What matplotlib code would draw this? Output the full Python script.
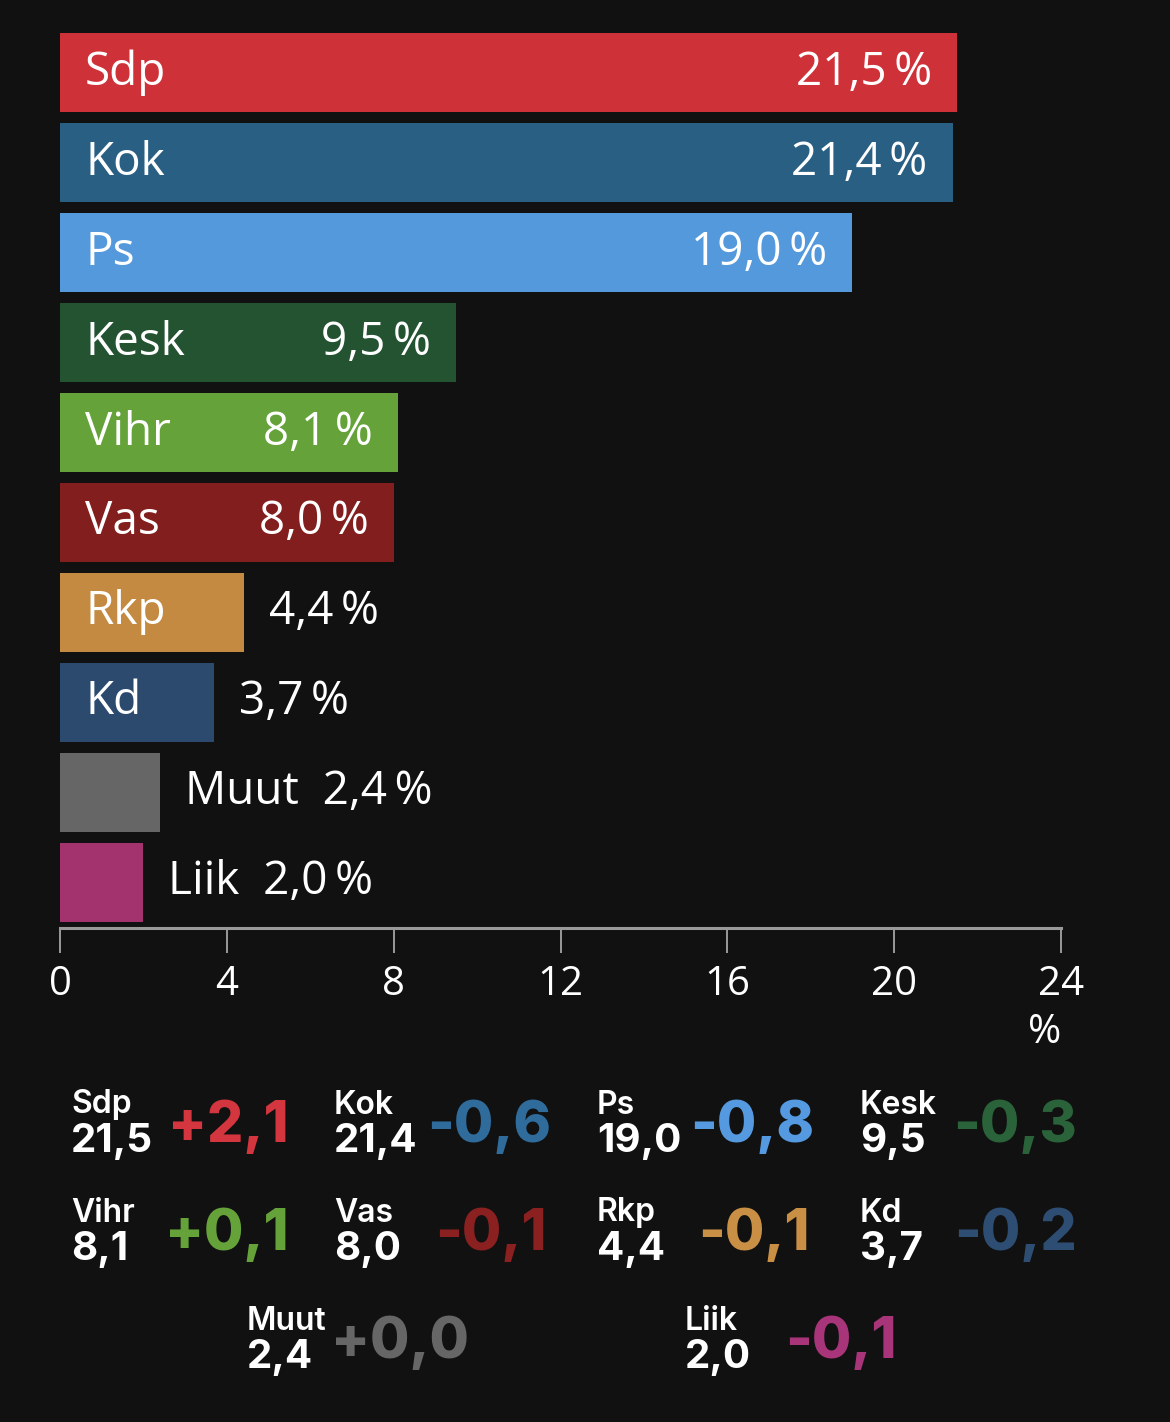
import numpy as np
import matplotlib.pyplot as plt

parties = ['Sdp', 'Kok', 'Ps', 'Kesk', 'Vihr', 'Vas', 'Rkp', 'Kd', 'Muut', 'Liik']
shares = [21.5, 21.4, 19.0, 9.5, 8.1, 8.0, 4.4, 3.7, 2.4, 2.0]
changes = ['+2,1', '-0,6', '-0,8', '-0,3', '+0,1', '-0,1', '-0,1', '-0,2', '+0,0', '-0,1']
bar_colors = ['#cf3139', '#2a5f84', '#5599dd', '#245331', '#65a33a',
              '#821e1d', '#c48a42', '#2c4a6e', '#666666', '#a3336f']
change_colors = ['#d3363f', '#2f6c9c', '#559ae0', '#2a6339', '#65a33a',
                 '#8a2020', '#c98f45', '#2e4d72', '#666666', '#a8347a']
# how the label sits: 0 = both inside, 1 = name inside / value outside, 2 = both outside
label_mode = [0, 0, 0, 0, 0, 0, 1, 1, 2, 2]

BG = '#111111'
W, H = 1170, 1422
fig = plt.figure(figsize=(W / 100, H / 100), dpi=100, facecolor=BG)

# axes spans px 60..1061 horizontally, 33..928 vertically
ax = fig.add_axes([60 / W, 1 - 928 / H, (1061 - 60) / W, (928 - 33) / H])
ax.set_facecolor(BG)
y = np.arange(len(parties))
ax.barh(y, shares, height=0.88, color=bar_colors)
ax.set_xlim(0, 24)
ax.set_ylim(9.44 + 6 / 90, -0.44)

bar_font = ['Open Sans', 'DejaVu Sans']
pad = 0.6
for i in range(len(parties)):
    val = f'{shares[i]:.1f}'.replace('.', ',') + '\u2009%'
    if label_mode[i] == 0:
        ax.text(pad, y[i], parties[i], color='white', fontsize=33, va='center', ha='left', family=bar_font)
        ax.text(shares[i] - pad, y[i], val, color='white', fontsize=33, va='center', ha='right', family=bar_font)
    elif label_mode[i] == 1:
        ax.text(pad, y[i], parties[i], color='white', fontsize=33, va='center', ha='left', family=bar_font)
        ax.text(shares[i] + pad, y[i], val, color='white', fontsize=33, va='center', ha='left', family=bar_font)
    else:
        ax.text(shares[i] + pad, y[i], parties[i] + '  ' + val, color='white', fontsize=33,
                va='center', ha='left', family=bar_font)

for s in ['top', 'right', 'left']:
    ax.spines[s].set_visible(False)
ax.spines['bottom'].set_color('#9a9a9a')
ax.spines['bottom'].set_linewidth(2.2)
ax.set_yticks([])
ax.set_xticks(range(0, 25, 4))
ax.tick_params(axis='x', direction='out', length=18, width=1.4, color='#9a9a9a',
               labelcolor='white', labelsize=29, pad=8)
for lab in ax.get_xticklabels():
    lab.set_family(['Open Sans', 'DejaVu Sans'])
fig.text(1045 / W, 1 - 1033 / H, '%', color='white', fontsize=29, ha='center', va='center',
         family=['Open Sans', 'DejaVu Sans'])

# summary block under the chart
sum_font = ['Inter', 'DejaVu Sans']
col_x = [71, 334, 597, 860, 71, 334, 597, 860, 247, 685]
row_y = [1105, 1105, 1105, 1105, 1213, 1213, 1213, 1213, 1321, 1321]
chg_right = [289, 551, 814, 1077, 289, 547, 810, 1077, 469, 897]
for i in range(len(parties)):
    x0 = col_x[i] / W
    fig.text(x0, 1 - row_y[i] / H, parties[i], color='white', fontsize=23, weight='semibold',
             ha='left', va='center', family=sum_font)
    fig.text(x0, 1 - (row_y[i] + 36) / H, f'{shares[i]:.1f}'.replace('.', ','), color='white',
             fontsize=29, weight='bold', ha='left', va='center', family=sum_font)
    fig.text(chg_right[i] / W, 1 - (row_y[i] + 22) / H, changes[i], color=change_colors[i],
             fontsize=41, weight='heavy', ha='right', va='center', family=sum_font)

fig.savefig('out.png', dpi=100, facecolor=BG)
